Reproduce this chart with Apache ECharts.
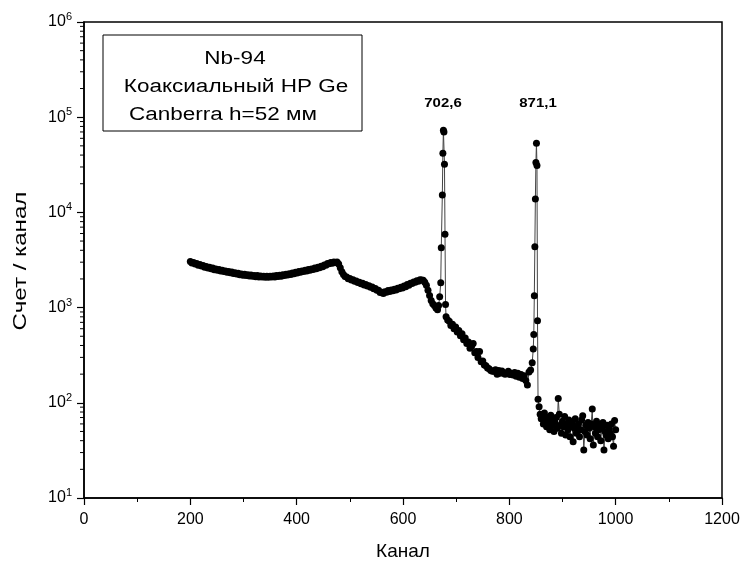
<!DOCTYPE html>
<html><head><meta charset="utf-8">
<script src="https://cdn.jsdelivr.net/npm/echarts@6/dist/echarts.min.js"></script>
<style>html,body{margin:0;padding:0;background:#fff}#c{width:746px;height:568px}</style>
</head><body><div id="c"></div>
<script>
// ---- data ----
const continuumStart = 200, continuumStep = 3;
const continuumCounts = [
  3050,2940,2980,2870,2900,2790,2830,2730,2770,2660,
  2710,2610,2650,2560,2600,2500,2550,2470,2510,2430,
  2470,2390,2420,2350,2400,2320,2360,2280,2320,2250,
  2290,2220,2260,2190,2240,2170,2220,2150,2200,2130,
  2180,2110,2170,2100,2150,2090,2140,2080,2140,2080,
  2140,2090,2150,2100,2170,2120,2190,2140,2210,2170,
  2240,2200,2270,2230,2310,2270,2350,2310,2390,2350,
  2430,2390,2470,2430,2510,2470,2550,2510,2600,2560,
  2650,2620,2720,2690,2810,2790,2900,2880,2970,2930,
  3010,2980,3020,2870,2620,2380,2230,2120,2090,2010,
  2020,1950,1960,1890,1900,1830,1850,1780,1800,1730,
  1750,1690,1700,1640,1650,1580,1590,1520,1520,1440,
  1450,1410,1470,1450,1510,1480,1530,1500,1560,1530,
  1600,1580,1640,1610,1690,1660,1750,1720,1800,1790,
  1860,1850,1920,1890,1960,1950,1940,1850,1720,1520,
  1340,1190,1100,1050,990,950
];
const peak1Channels = [667,669,671,672,674,675,676,677,678,679,680];
const peak1Counts   = [1050,1300,1820,4260,15200,41900,73000,70000,32100,5880,1080];
const declineStart = 681, declineStep = 3;
const declineCounts = [
  800,740,720,650,670,600,625,555,575,505,
  530,460,480,420,435,375,395,420,335,345,
  300,345,270,275,250,245,232,228,218,214,
  214,222,200,218,204,216,206,200,204,214,
  198,204,196,208,190,204,186,198,180,192,
  172,154
];
const peak2Channels = [837,840,843,845,846,847,848,849,850,851,852,853,854];
const peak2Counts   = [210,221,263,367,523,1330,4350,13800,33400,53200,31000,728,109];
const tailStart = 856, tailStep = 2;
const tailCounts = [
  91,76,68,72,60,78,64,56,70,62,
  52,74,58,66,50,62,70,54,111,76,
  58,48,64,56,72,46,60,52,66,44,
  58,62,39,54,68,48,56,60,44,52,
  66,73,32,50,58,46,62,54,42,60,
  86,36,56,48,64,44,52,58,40,54,
  62,32,50,46,58,42,54,48,60,44,
  35,65,52
];
const xTickLabels = [0,200,400,600,800,1000,1200];
const yMinorMantissas = [2,3,4,5,6,7,8,9];
const yDecades = [10,100,1000,10000,100000];
const peakLabels = ['702,6','871,1'];
const boxLines = ['Nb-94','Коаксиальный HP Ge','Canberra h=52 мм'];
const xName = 'Канал', yName = 'Счет / канал';

// ---- build series data ----
const points = [];
continuumCounts.forEach((v,i)=>points.push([continuumStart+i*continuumStep, v]));
peak1Channels.forEach((c,i)=>points.push([c, peak1Counts[i]]));
declineCounts.forEach((v,i)=>points.push([declineStart+i*declineStep, v]));
peak2Channels.forEach((c,i)=>points.push([c, peak2Counts[i]]));
tailCounts.forEach((v,i)=>points.push([tailStart+i*tailStep, v]));

const minorY = [];
yDecades.forEach(d=>yMinorMantissas.forEach(m=>minorY.push([0, d*m])));

const FF = 'Liberation Sans, Arial, sans-serif';
const chart = echarts.init(document.getElementById('c'), null, {renderer:'canvas'});
chart.setOption({
  animation:false,
  backgroundColor:'#fff',
  grid:{left:84,right:24,top:22,bottom:70,show:true,borderColor:'#000',borderWidth:1.5,backgroundColor:'transparent'},
  xAxis:{
    type:'value',min:xTickLabels[0],max:xTickLabels[xTickLabels.length-1],interval:200,
    axisLine:{show:true,onZero:false,lineStyle:{color:'#000',width:1.5}},
    axisTick:{show:true,inside:false,length:7,lineStyle:{color:'#000',width:1.2}},
    minorTick:{show:true,splitNumber:2,length:4,lineStyle:{color:'#000',width:1}},
    splitLine:{show:false},
    axisLabel:{color:'#000',fontSize:16,fontFamily:FF,margin:14,formatter:v=>String(v)},
    name:xName,nameLocation:'middle',nameGap:44,
    nameTextStyle:{color:'#000',fontSize:19,fontFamily:FF}
  },
  yAxis:{
    type:'log',logBase:10,min:10,max:1e6,
    axisLine:{show:true,lineStyle:{color:'#000',width:1.5}},
    axisTick:{show:true,inside:false,length:7,lineStyle:{color:'#000',width:1.2}},
    splitLine:{show:false},
    axisLabel:{color:'#000',fontFamily:FF,margin:12,
      formatter:v=>'{b|10}{s|'+Math.round(Math.log10(v))+'}',
      rich:{b:{fontSize:16,fontFamily:FF,color:'#000'},s:{fontSize:11,fontFamily:FF,color:'#000',padding:[0,0,10,0]}}}
  },
  series:[
    {type:'line',data:points,symbol:'circle',symbolSize:7,showAllSymbol:true,
     itemStyle:{color:'#000'},lineStyle:{color:'#444',width:1},z:3},
    {type:'custom',data:minorY,clip:false,silent:true,z:4,
     renderItem:(params,api)=>{
       const p = api.coord([api.value(0), api.value(1)]);
       return {type:'line',shape:{x1:p[0]-4,y1:p[1],x2:p[0],y2:p[1]},style:{stroke:'#000',lineWidth:1}};
     }}
  ],
  graphic:[
    {type:'text',x:21,y:261,rotation:Math.PI/2,scaleX:1.27,style:{text:yName,font:'19px '+FF,fill:'#000',textAlign:'center',textVerticalAlign:'middle'},z:11},
    {type:'rect',shape:{x:103,y:35,width:259,height:96},style:{fill:'#fff',stroke:'#000',lineWidth:1},z:10},
    {type:'text',x:235,y:59,scaleX:1.25,style:{text:boxLines[0],font:'18px '+FF,fill:'#000',textAlign:'center',textVerticalAlign:'middle'},z:11},
    {type:'text',x:236,y:87,scaleX:1.25,style:{text:boxLines[1],font:'18px '+FF,fill:'#000',textAlign:'center',textVerticalAlign:'middle'},z:11},
    {type:'text',x:223,y:115,scaleX:1.25,style:{text:boxLines[2],font:'18px '+FF,fill:'#000',textAlign:'center',textVerticalAlign:'middle'},z:11},
    {type:'text',x:443,y:103,scaleX:1.15,style:{text:peakLabels[0],font:'bold 13px '+FF,fill:'#000',textAlign:'center',textVerticalAlign:'middle'},z:11},
    {type:'text',x:538,y:103,scaleX:1.15,style:{text:peakLabels[1],font:'bold 13px '+FF,fill:'#000',textAlign:'center',textVerticalAlign:'middle'},z:11}
  ]
});
</script>
</body></html>
